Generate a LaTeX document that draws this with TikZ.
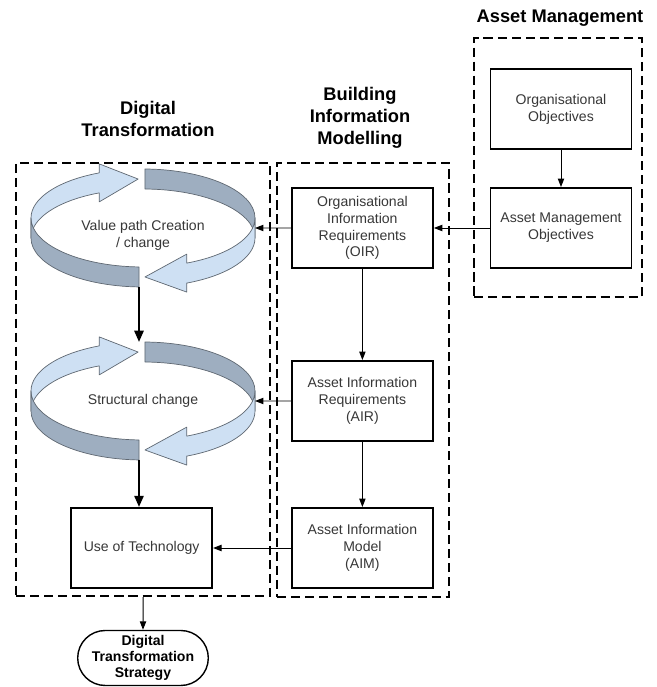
\documentclass[tikz,border=0pt]{standalone}
\usepackage{fontspec}
\setmainfont{Liberation Sans}
\usepackage{xcolor}
\usetikzlibrary{arrows.meta,shapes.misc}

\definecolor{facelight}{RGB}{206,224,243}
\definecolor{facedark}{RGB}{158,174,192}
\definecolor{ringedge}{RGB}{95,104,114}
\definecolor{boxtext}{RGB}{55,55,55}

\tikzset{
	lightpart/.style = {fill=facelight, draw=ringedge, line width=0.5pt, line join=round},
	darkpart/.style = {fill=facedark, draw=ringedge, line width=0.5pt, line join=round}
}

% ring of two arrows: name, x, y
\newcommand{\Cycle}[3]{%
	\begin{scope}[shift={(#2,#3)}, x radius=2.8, y radius=1.225]
		% back half
		\draw[lightpart] (180:2.8 and 1.225) arc[start angle=180, end angle=113]
			-- ([yshift=2.25mm]113:2.8 and 1.225) -- ([yshift=-2.5mm]92.5:2.8 and 1.225)
			-- ([yshift=-7.25mm]113:2.8 and 1.225) -- ([yshift=-5mm]113:2.8 and 1.225)
			arc[start angle=113, end angle=180] -- cycle;
		\draw[darkpart] (89:2.8 and 1.225) arc[start angle=89, end angle=0]
			-- ++(0,-0.5) arc[start angle=0, end angle=89] -- cycle;
		% front half
		\draw[darkpart] (180:2.8 and 1.225) arc[start angle=180, end angle=268]
			-- ++(0,-0.5) arc[start angle=268, end angle=180] -- cycle;
		\draw[lightpart] (360:2.8 and 1.225) arc[start angle=360, end angle=293]
			-- ([yshift=2.25mm]293:2.8 and 1.225) -- ([yshift=-2.5mm]271:2.8 and 1.225)
			-- ([yshift=-7.25mm]293:2.8 and 1.225) -- ([yshift=-5mm]293:2.8 and 1.225)
			arc[start angle=293, end angle=360] -- cycle;
		\coordinate (#1-top) at (-0.1,1.225);
		\coordinate (#1-bot) at (-0.1,-1.725);
		\coordinate (#1-east) at (2.8,-0.25);
	\end{scope}}

\begin{document}
\begin{tikzpicture}[
	box/.style = {draw, line width=1.4pt, minimum width=3.525cm, minimum height=2cm, align=center,
		text=boxtext, font=\fontsize{10}{12}\selectfont},
	group/.style = {draw, line width=1.5pt, dash pattern=on 6.5pt off 3.5pt},
	title/.style = {align=center, font=\fontsize{13}{15.6}\selectfont\bfseries},
	terminal/.style = {rounded rectangle, draw, line width=1pt, minimum width=3.5cm, minimum height=1.375cm,
		inner ysep=0pt, align=center, font=\fontsize{10}{11.6}\selectfont\bfseries},
	cycletext/.style = {align=center, text=boxtext, font=\fontsize{10}{12}\selectfont},
	link/.style = {-{Triangle[length=6pt,width=4.5pt]}, line width=0.7pt},
	flow/.style = {-{Triangle[length=8pt,width=6.5pt]}, line width=1.6pt}
	]
	%\draw[help lines] (0,0) grid (16,17);
	\useasboundingbox (0,0) rectangle (16.425,17.175);
	
	\node[title] (amt) at (14.0,16.72) {Asset Management};
	\node[title] (bimt) at (9.0,14.22) {Building\\Information\\Modelling};
	\node[title] (dtt) at (3.7,14.2) {Digital\\Transformation};
	
	\node[group, minimum width=4.2cm, minimum height=6.475cm] (am) at (13.95,12.9875) {};
	\node[group, minimum width=4.3cm, minimum height=10.85cm] (bim) at (9.075,7.675) {};
	\node[group, minimum width=6.35cm, minimum height=10.825cm] (dt) at (3.575,7.6875) {};
	
	\node[box] (oo) at (14.025,14.45) {Organisational\\Objectives};
	\node[box] (amo) at (14.025,11.475) {Asset Management\\Objectives};
	
	\node[box] (oir) at (9.06,11.475) {Organisational\\Information\\Requirements\\(OIR)};
	\node[box] (air) at (9.06,7.15) {Asset Information\\Requirements\\(AIR)};
	\node[box] (aim) at (9.06,3.475) {Asset Information\\Model\\(AIM)};
	
	\Cycle{vpc}{3.575}{11.725}
	\Cycle{sc}{3.575}{7.4}
	\node[cycletext] (vpct) at (3.575,11.3) {Value path Creation\\/ change};
	\node[cycletext] (sct) at (3.575,7.15) {Structural change};
	\node[box] (uot) at (3.54,3.475) {Use of Technology};
	
	\node[terminal] (dts) at (3.575,0.725) {Digital\\Transformation\\Strategy};
	
	\draw[link] (oo) -- (amo);
	\draw[link] (amo) -- (oir);
	\draw[link] (oir) -- (air);
	\draw[link] (air) -- (aim);
	\draw[link] (oir) -- (vpc-east);
	\draw[link] (air) -- (sc-east);
	\draw[link] (aim) -- (uot);
	\draw[flow] (vpc-bot) -- (sc-top);
	\draw[flow] (sc-bot) -- (sc-bot |- uot.north);
	\draw[link] (dt) -- (dts);
\end{tikzpicture}
\end{document}
